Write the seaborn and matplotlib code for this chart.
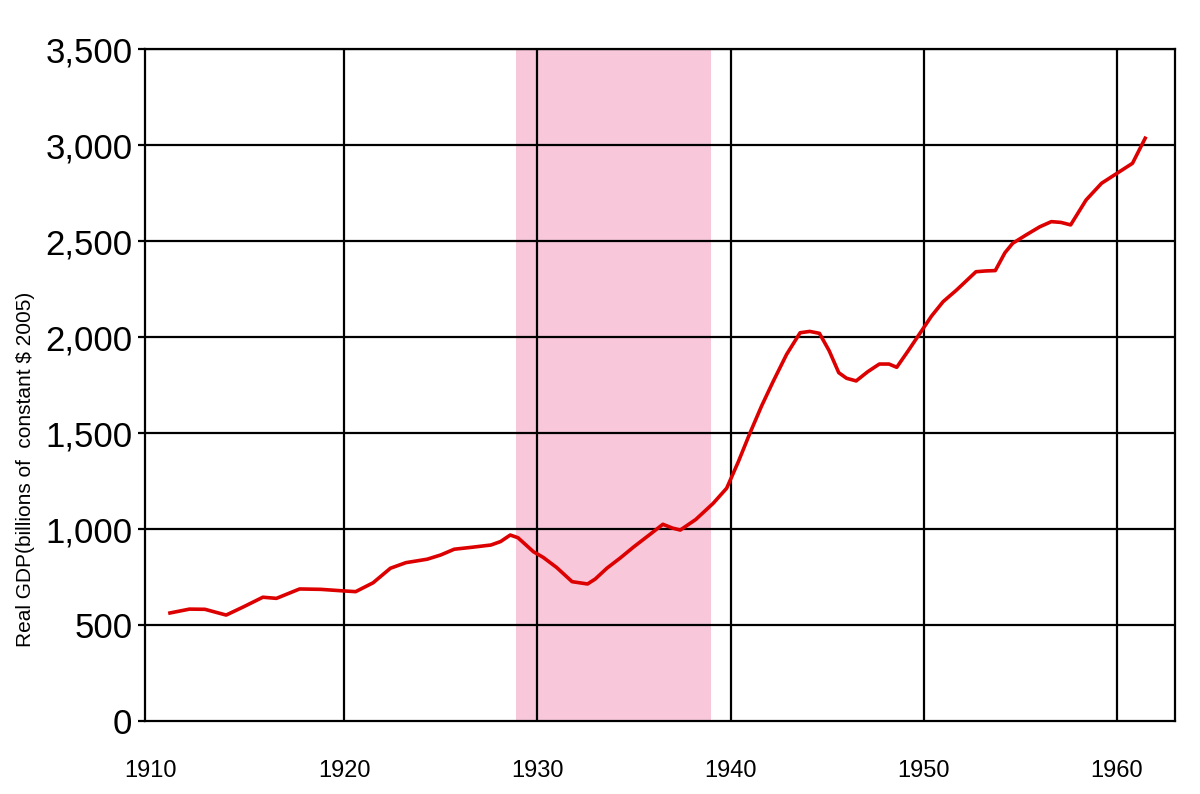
import matplotlib
matplotlib.use("Agg")
import matplotlib.pyplot as plt
import seaborn as sns
import pandas as pd

# Lectura aproximada de la curva (año, miles de millones de $ de 2005)
anios = [1910.9, 1912.0, 1912.8, 1913.9, 1914.8, 1915.8, 1916.5, 1917.7, 1918.8, 1919.8,
         1920.6, 1921.5, 1922.4, 1923.2, 1924.3, 1925.0, 1925.7, 1926.6, 1927.6, 1928.1,
         1928.6, 1929.0, 1929.8, 1930.3, 1931.0, 1931.8, 1932.6, 1933.0, 1933.6, 1934.3,
         1935.0, 1935.8, 1936.5, 1937.0, 1937.4, 1938.2, 1939.1, 1939.8, 1940.4, 1941.0,
         1941.6, 1942.2, 1942.9, 1943.6, 1944.1, 1944.6, 1945.1, 1945.6, 1946.0, 1946.5,
         1947.1, 1947.7, 1948.2, 1948.6, 1949.2, 1949.8, 1950.4, 1951.0, 1951.7, 1952.7,
         1953.2, 1953.7, 1954.2, 1954.6, 1955.3, 1956.0, 1956.6, 1957.1, 1957.6, 1958.4,
         1959.2, 1960.0, 1960.8, 1961.5]
pib = [561, 583, 582, 552, 595, 645, 639, 688, 686, 679,
       674, 720, 796, 825, 843, 865, 895, 905, 917, 935,
       969, 955, 882, 853, 800, 726, 714, 740, 796, 850,
       908, 970, 1025, 1005, 995, 1050, 1134, 1213, 1350, 1499,
       1640, 1768, 1910, 2023, 2030, 2020, 1930, 1815, 1786, 1772,
       1820, 1860, 1860, 1843, 1930, 2020, 2110, 2185, 2246, 2341,
       2345, 2347, 2440, 2489, 2533, 2575, 2602, 2598, 2585, 2715,
       2802, 2854, 2906, 3045]

depresion = (1928.9, 1939.0)
x_ticks = [1910, 1920, 1930, 1940, 1950, 1960]
y_ticks = [0, 500, 1000, 1500, 2000, 2500, 3000, 3500]

df = pd.DataFrame({"anio": anios, "pib": pib})

sns.set_style("white")
fuente = ['Liberation Sans', 'DejaVu Sans']
plt.rcParams['font.family'] = fuente

fig = plt.figure(figsize=(12, 7.94), dpi=100)
ax = fig.add_axes([145 / 1200, 1 - 721 / 794, 1030 / 1200, (721 - 49.3) / 794])

ax.axvspan(depresion[0], depresion[1], color="#f8c8da", lw=0, zorder=0)

for x in x_ticks[1:]:
    ax.axvline(x, color="black", lw=1.6, zorder=1)
for y in y_ticks[1:]:
    ax.axhline(y, color="black", lw=1.6, zorder=1)

sns.lineplot(data=df, x="anio", y="pib", color="#dd0000", lw=2.6, ax=ax, zorder=3,
             solid_joinstyle="round", solid_capstyle="butt")

ax.set_xlim(1909.7, 1963.0)
ax.set_ylim(0, 3500)

for s in ax.spines.values():
    s.set_color("black")
    s.set_linewidth(1.6)

ax.set_xticks(x_ticks)
ax.set_xticklabels([str(x) for x in x_ticks], fontsize=17, color="black")
ax.set_yticks(y_ticks)
ax.set_yticklabels([f"{y:,}" for y in y_ticks], fontsize=25, color="black")
ax.tick_params(axis="x", length=0, pad=28)
ax.tick_params(axis="y", length=5, width=1.6, color="black", direction="out", pad=4, left=True)

ax.set_xlabel("")
ax.set_ylabel("Real GDP(billions of  constant $ 2005)", fontsize=15, color="black")
ax.yaxis.set_label_coords(-0.107, 0.374)

plt.savefig("out.png", dpi=100)
plt.close()
